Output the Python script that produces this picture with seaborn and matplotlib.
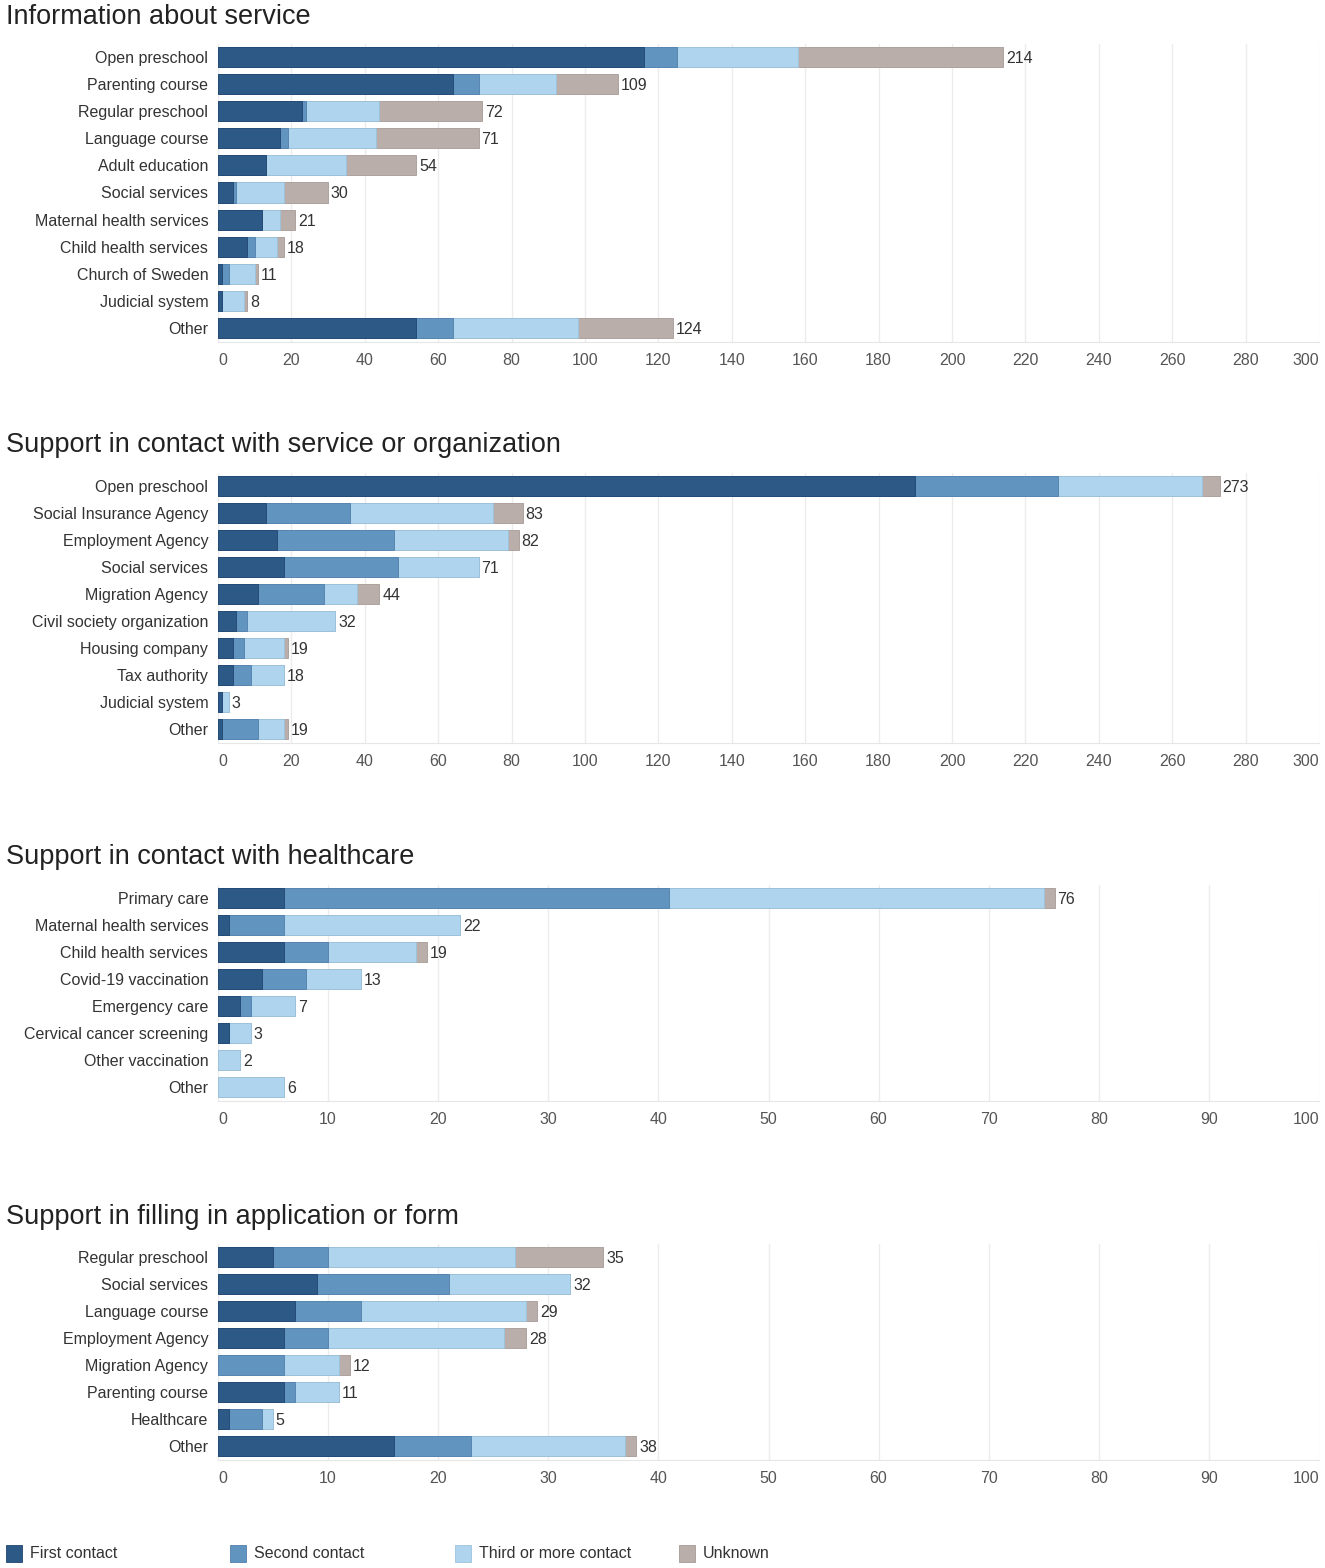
import matplotlib
matplotlib.use("Agg")
import matplotlib.pyplot as plt
import matplotlib.patches as mpatches
import numpy as np
import seaborn as sns

sns.set_style("white")
plt.rcParams["font.family"] = ["Liberation Sans", "DejaVu Sans"]

# ---- data ----
SERIES = ["First contact", "Second contact", "Third or more contact", "Unknown"]
COLOURS = ["#2c5985", "#6294c0", "#afd4ed", "#b9aea9"]
EDGES = ["#1f4670", "#527fab", "#9cc3df", "#a69a94"]

info_labels = ["Open preschool", "Parenting course", "Regular preschool", "Language course",
               "Adult education", "Social services", "Maternal health services",
               "Child health services", "Church of Sweden", "Judicial system", "Other"]
info_first = [116, 64, 23, 17, 13, 4, 12, 8, 1, 1, 54]
info_second = [9, 7, 1, 2, 0, 1, 0, 2, 2, 0, 10]
info_third = [33, 21, 20, 24, 22, 13, 5, 6, 7, 6, 34]
info_unknown = [56, 17, 28, 28, 19, 12, 4, 2, 1, 1, 26]

org_labels = ["Open preschool", "Social Insurance Agency", "Employment Agency", "Social services",
              "Migration Agency", "Civil society organization", "Housing company",
              "Tax authority", "Judicial system", "Other"]
org_first = [190, 13, 16, 18, 11, 5, 4, 4, 1, 1]
org_second = [39, 23, 32, 31, 18, 3, 3, 5, 0, 10]
org_third = [39, 39, 31, 22, 9, 24, 11, 9, 2, 7]
org_unknown = [5, 8, 3, 0, 6, 0, 1, 0, 0, 1]

health_labels = ["Primary care", "Maternal health services", "Child health services",
                 "Covid-19 vaccination", "Emergency care", "Cervical cancer screening",
                 "Other vaccination", "Other"]
health_first = [6, 1, 6, 4, 2, 1, 0, 0]
health_second = [35, 5, 4, 4, 1, 0, 0, 0]
health_third = [34, 16, 8, 5, 4, 2, 2, 6]
health_unknown = [1, 0, 1, 0, 0, 0, 0, 0]

form_labels = ["Regular preschool", "Social services", "Language course", "Employment Agency",
               "Migration Agency", "Parenting course", "Healthcare", "Other"]
form_first = [5, 9, 7, 6, 0, 6, 1, 16]
form_second = [5, 12, 6, 4, 6, 1, 3, 7]
form_third = [17, 11, 15, 16, 5, 4, 1, 14]
form_unknown = [8, 0, 1, 2, 1, 0, 0, 1]

PANELS = [
    ("Information about service", info_labels,
     [info_first, info_second, info_third, info_unknown], 300, 20),
    ("Support in contact with service or organization", org_labels,
     [org_first, org_second, org_third, org_unknown], 300, 20),
    ("Support in contact with healthcare", health_labels,
     [health_first, health_second, health_third, health_unknown], 100, 10),
    ("Support in filling in application or form", form_labels,
     [form_first, form_second, form_third, form_unknown], 100, 10),
]

W, H = 1325, 1568
# pixel layout: (axes top, axes bottom, title centre)
LAYOUT = [(43.5, 341.5, 17), (472.5, 742.5, 445), (884.5, 1100.5, 857), (1243.5, 1459.5, 1217)]
AX_LEFT, AX_RIGHT = 218, 1319

fig = plt.figure(figsize=(W / 100, H / 100), dpi=100)

for (title, labels, parts, xmax, step), (top, bot, ty) in zip(PANELS, LAYOUT):
    ax = fig.add_axes([AX_LEFT / W, 1 - bot / H, (AX_RIGHT - AX_LEFT) / W, (bot - top) / H])
    cum = np.cumsum(np.array(parts), axis=0)
    # draw cumulative totals back to front so the segments stack
    for k in range(3, -1, -1):
        sns.barplot(x=cum[k], y=labels, orient="h", ax=ax, color=COLOURS[k],
                    saturation=1, width=0.74, edgecolor=EDGES[k], linewidth=0.6,
                    order=labels)
    # empty segments should not leave an outline behind
    for p in ax.patches:
        if p.get_width() == 0:
            p.set_linewidth(0)
    totals = cum[3]
    for i, t in enumerate(totals):
        ax.text(t + xmax * 0.0025, i, f"{t}", va="center_baseline", ha="left",
                fontsize=11.5, color="#333333")

    ax.set_xlim(0, xmax)
    ax.set_ylim(len(labels) - 0.5, -0.5)
    ticks = np.arange(0, xmax + 1, step)
    ax.set_xticks(ticks)
    ax.set_xticklabels([str(t) for t in ticks], fontsize=11.5, color="#555555")
    tl = ax.get_xticklabels()
    tl[0].set_ha("left")
    tl[-1].set_ha("right")
    ax.tick_params(axis="x", length=0, pad=8)
    ax.tick_params(axis="y", length=0, pad=7, labelsize=11.5, labelcolor="#333333")
    ax.set_xlabel("")
    ax.set_ylabel("")
    ax.grid(axis="x", color="#ececec", linewidth=1)
    ax.set_axisbelow(True)
    for s in ("top", "right", "left"):
        ax.spines[s].set_visible(False)
    ax.spines["bottom"].set_color("#e6e6e6")
    fig.text(6 / W, 1 - ty / H, title, fontsize=19.5, color="#222222",
             ha="left", va="center")

# legend along the bottom
for k, (name, x0) in enumerate(zip(SERIES, [6, 230, 455, 679])):
    fig.add_artist(mpatches.Rectangle((x0 / W, 1 - 1562 / H), 16 / W, 17 / H,
                                      transform=fig.transFigure, facecolor=COLOURS[k],
                                      edgecolor=EDGES[k], linewidth=0.6))
    fig.text((x0 + 24) / W, 1 - 1553.5 / H, name, fontsize=11.5, color="#333333",
             ha="left", va="center")

fig.savefig("out.png", dpi=100)
